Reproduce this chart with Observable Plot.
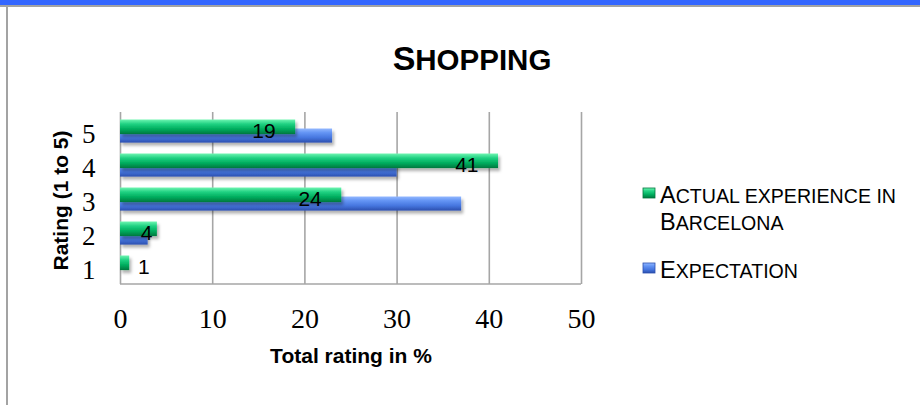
<!DOCTYPE html>
<html>
<head>
<meta charset="utf-8">
<script src="https://cdn.jsdelivr.net/npm/d3@7"></script>
<script src="https://cdn.jsdelivr.net/npm/@observablehq/plot@0.6"></script>
<style>
  body { margin: 0; background: #fff; }
  #wrap { position: relative; width: 920px; height: 405px; overflow: hidden; background: #fff; }
  #topbar { position: absolute; left: 0; top: 0; width: 920px; height: 5px; background: #3366ff; }
  #topline { position: absolute; left: 0; top: 5px; width: 920px; height: 2px; background: #a3a3a3; }
  #leftline { position: absolute; left: 6px; top: 5px; width: 2px; height: 400px; background: #a3a3a3; }
  #chart { position: absolute; left: 0; top: 0; }
  #overlay { position: absolute; left: 0; top: 0; pointer-events: none; }
</style>
</head>
<body>
<div id="wrap">
  <div id="chart"></div>
  <div id="topbar"></div>
  <div id="topline"></div>
  <div id="leftline"></div>
</div>
<script>
// ---- data ----
const ratings = ["5", "4", "3", "2", "1"];
const actual = [19, 41, 24, 4, 1];
const expectation = [23, 30, 37, 3, 0];
const seriesNames = ["Actual experience in Barcelona", "Expectation"];
const xTicks = [0, 10, 20, 30, 40, 50];
const titleText = "Shopping";
const xTitle = "Total rating in %";
const yTitle = "Rating (1 to 5)";

const actRows = ratings.map((r, i) => ({rating: r, value: actual[i]}));
const expRows = ratings.map((r, i) => ({rating: r, value: expectation[i]}));

const labelBase = {x: "value", y: "rating", text: d => String(d.value), textAnchor: "end",
  dy: 1, fontSize: 21, fontFamily: "Liberation Sans, Arial, sans-serif", fill: "#000"};

const plot = Plot.plot({
  width: 920,
  height: 405,
  marginLeft: 120,
  marginRight: 339,
  marginTop: 112,
  marginBottom: 121,
  style: {fontFamily: "Liberation Serif, serif", fontSize: "28px", color: "#000", background: "transparent", overflow: "visible"},
  x: {domain: [0, 50]},
  y: {domain: ratings, type: "band", padding: 0},
  marks: [
    Plot.gridX(xTicks, {stroke: "#a6a6a6", strokeOpacity: 1, strokeWidth: 1.6}),
    Plot.barX(expRows, {x: "value", y: "rating", fill: "url(#gradBlue)", insetTop: 15.5, insetBottom: 4.4}),
    Plot.barX(actRows, {x: "value", y: "rating", fill: "url(#gradGreen)", insetTop: 6.5, insetBottom: 12.9}),
    Plot.axisX({ticks: xTicks, tickSize: 0, tickPadding: 24, fontSize: 28, fontFamily: "Liberation Serif, serif", label: null}),
    Plot.axisY({tickSize: 0, tickPadding: 25, fontSize: 27, fontFamily: "Liberation Serif, serif", label: null, dy: 4}),
    Plot.text(actRows, {...labelBase, filter: d => d.value >= 10, dx: -20}),
    Plot.text(actRows, {...labelBase, filter: d => d.value >= 2 && d.value < 10, dx: -5}),
    Plot.text(actRows, {...labelBase, filter: d => d.value < 2, dx: 20}),
    Plot.text([yTitle], {text: d => d, frameAnchor: "left", textAnchor: "middle", lineAnchor: "middle",
      dx: -59, dy: 2, rotate: -90, fontWeight: "bold",
      fontSize: 21, fontFamily: "Liberation Sans, Arial, sans-serif", fill: "#000"}),
    Plot.text([xTitle], {text: d => d, frameAnchor: "bottom", textAnchor: "middle", lineAnchor: "middle",
      dy: 72, fontWeight: "bold",
      fontSize: 21, fontFamily: "Liberation Sans, Arial, sans-serif", fill: "#000"})
  ]
});

document.getElementById("chart").appendChild(plot);

const svg = d3.select(plot);
const defs = svg.insert("defs", ":first-child");
defs.html(`
  <linearGradient id="gradGreen" x1="0" y1="0" x2="0" y2="1">
    <stop offset="0" stop-color="#6ff5b2"/>
    <stop offset="0.3" stop-color="#22d283"/>
    <stop offset="0.65" stop-color="#00ad5e"/>
    <stop offset="1" stop-color="#00773e"/>
  </linearGradient>
  <linearGradient id="gradBlue" x1="0" y1="0" x2="0" y2="1">
    <stop offset="0" stop-color="#93b8ff"/>
    <stop offset="0.3" stop-color="#6394f4"/>
    <stop offset="0.65" stop-color="#4676df"/>
    <stop offset="1" stop-color="#2b4fae"/>
  </linearGradient>
  <filter id="barShadow" x="-5%" y="-40%" width="115%" height="220%">
    <feDropShadow dx="2" dy="3" stdDeviation="1.8" flood-color="#000" flood-opacity="0.3"/>
  </filter>
`);
svg.selectAll("g[aria-label=bar]").attr("filter", "url(#barShadow)");

// bottom axis line through the library's x scale
const xs = plot.scale("x");
svg.append("line")
  .attr("x1", xs.apply(0)).attr("x2", xs.apply(50))
  .attr("y1", 405 - 121).attr("y2", 405 - 121)
  .attr("stroke", "#a6a6a6").attr("stroke-width", 1.6);

// title and legend overlay
const ov = d3.select("#wrap").append("svg").attr("id", "overlay")
  .attr("width", 920).attr("height", 405)
  .style("font-family", "Liberation Sans, Arial, sans-serif");

const t = ov.append("text").attr("x", 472).attr("y", 70).attr("text-anchor", "middle")
  .attr("font-weight", "bold").attr("fill", "#000");
t.append("tspan").attr("font-size", 34).text(titleText[0].toUpperCase());
t.append("tspan").attr("font-size", 29.5).text(titleText.slice(1).toUpperCase());

function smallCapsLine(x, y, str) {
  const el = ov.append("text").attr("x", x).attr("y", y).attr("fill", "#000");
  el.append("tspan").attr("font-size", 23.5).text(str[0].toUpperCase());
  el.append("tspan").attr("font-size", 19.6).text(str.slice(1).toUpperCase());
}
const words = seriesNames[0].split(" ");
smallCapsLine(660, 203, words.slice(0, 3).join(" "));
smallCapsLine(660, 230, words.slice(3).join(" "));
smallCapsLine(660, 278, seriesNames[1]);

ov.append("rect").attr("x", 643).attr("y", 188).attr("width", 12).attr("height", 10)
  .attr("fill", "url(#gradGreen)").attr("stroke", "#00773e").attr("stroke-width", 0.8);
ov.append("rect").attr("x", 643).attr("y", 263).attr("width", 12).attr("height", 10)
  .attr("fill", "url(#gradBlue)").attr("stroke", "#2b4fae").attr("stroke-width", 0.8);
</script>
</body>
</html>
